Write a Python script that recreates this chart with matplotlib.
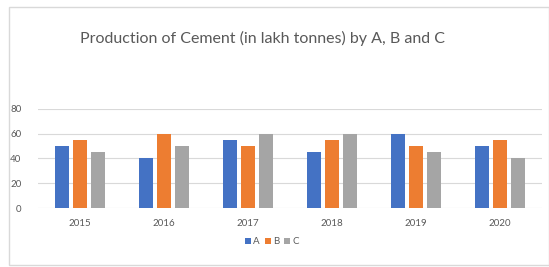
import matplotlib
matplotlib.use("Agg")
import matplotlib.pyplot as plt
from matplotlib.patches import Rectangle
import numpy as np

plt.rcParams['font.family'] = ['Lato', 'DejaVu Sans']

years = ["2015", "2016", "2017", "2018", "2019", "2020"]
series_names = ["A", "B", "C"]
a_vals = [50, 40, 55, 45, 60, 50]
b_vals = [55, 60, 50, 55, 50, 55]
c_vals = [45, 50, 60, 60, 45, 40]
colors = ["#4472C4", "#ED7D31", "#A5A5A5"]
yticks = [0, 20, 40, 60, 80]

fig = plt.figure(figsize=(5.49, 2.67), dpi=100)
fig.patch.set_facecolor("white")

# chart frame
fig.add_artist(Rectangle((9/549, 1-265/267), (549-9)/549, (265-7)/267,
                         transform=fig.transFigure, fill=False,
                         edgecolor="#D9D9D9", linewidth=1.0))

ax = fig.add_axes([38/549, 1-208/267, (542-38)/549, (208-108.7)/267])
x = np.arange(len(years))
w = 0.17
pitch = 0.214
for i, (vals, name) in enumerate(zip([a_vals, b_vals, c_vals], series_names)):
    ax.bar(x + (i-1)*pitch, vals, width=w, color=colors[i], label=name, zorder=3)

ax.set_xlim(-0.5, 5.5)
ax.set_ylim(0, 80)
ax.set_yticks(yticks)
ax.set_xticks(x)
ax.set_xticklabels(years)
ax.grid(axis="y", color="#D9D9D9", linewidth=0.8, zorder=0)
for s in ax.spines.values():
    s.set_visible(False)
ax.tick_params(axis="both", length=0, labelsize=7, colors="#595959")
ax.tick_params(axis="x", pad=8)
ax.tick_params(axis="y", pad=12)

fig.text(262/549, 1-38/267, "Production of Cement (in lakh tonnes) by A, B and C",
         ha="center", va="center", fontsize=11.5, color="#595959")

leg = ax.legend(loc="center", bbox_to_anchor=(272/549, 1-242/267),
                bbox_transform=fig.transFigure, ncol=3, frameon=False,
                fontsize=7, handlelength=0.6, handleheight=0.6,
                handletextpad=0.25, columnspacing=0.5)
for t in leg.get_texts():
    t.set_color("#595959")

fig.savefig("out.png", dpi=100)
